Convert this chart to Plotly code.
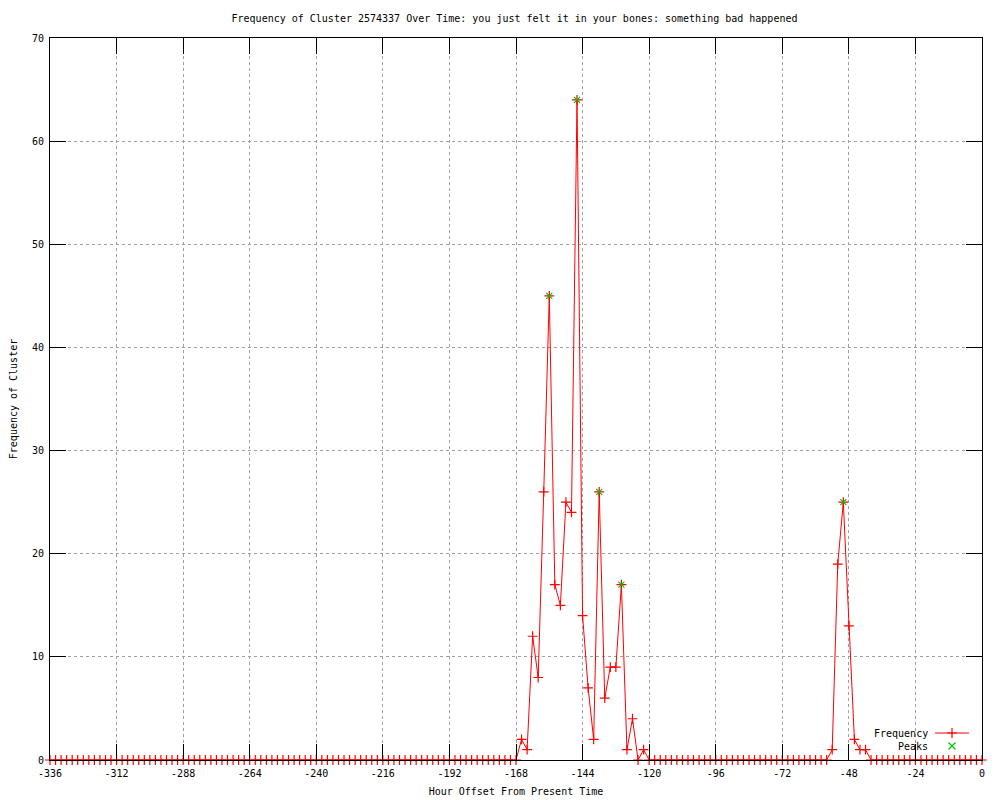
import plotly.graph_objects as go

# ---------------- data ----------------
hours = list(range(-336, 1, 2))
frequency = [
    # -336 .. -168
    0, 0, 0, 0, 0, 0, 0, 0, 0, 0, 0, 0, 0, 0, 0, 0, 0, 0, 0, 0,
    0, 0, 0, 0, 0, 0, 0, 0, 0, 0, 0, 0, 0, 0, 0, 0, 0, 0, 0, 0,
    0, 0, 0, 0, 0, 0, 0, 0, 0, 0, 0, 0, 0, 0, 0, 0, 0, 0, 0, 0,
    0, 0, 0, 0, 0, 0, 0, 0, 0, 0, 0, 0, 0, 0, 0, 0, 0, 0, 0, 0,
    0, 0, 0, 0, 0,
    # -166 .. -120
    2, 1, 12, 8, 26, 45, 17, 15, 25, 24, 64, 14, 7, 2, 26, 6, 9, 9, 17, 1,
    4, 0, 1, 0,
    # -118 .. -56
    0, 0, 0, 0, 0, 0, 0, 0, 0, 0, 0, 0, 0, 0, 0, 0,
    0, 0, 0, 0, 0, 0, 0, 0, 0, 0, 0, 0, 0, 0, 0, 0,
    # -54 .. -42
    1, 19, 25, 13, 2, 1, 1,
    # -40 .. 0
    0, 0, 0, 0, 0, 0, 0, 0, 0, 0, 0, 0, 0, 0, 0, 0, 0, 0, 0, 0, 0,
]
peak_hours = [-156, -146, -138, -130, -50]
peak_values = [45, 64, 26, 17, 25]

x_ticks = list(range(-336, 1, 24))
x_tick_labels = [str(v) for v in x_ticks]
y_ticks = list(range(0, 71, 10))

title = "Frequency of Cluster 2574337 Over Time: you just felt it in your bones: something bad happened"
x_title = "Hour Offset From Present Time"
y_title = "Frequency of Cluster"
legend_names = ["Frequency", "Peaks"]

FONT = "DejaVu Sans Mono"
FS = 10
RED = "#ff0000"
GREEN = "#00c000"

fig = go.Figure()
fig.add_trace(go.Scatter(
    x=hours, y=frequency, mode="lines+markers", name=legend_names[0],
    line=dict(color=RED, width=1),
    marker=dict(symbol="cross-thin", size=7, line=dict(color=RED, width=1.2)),
    showlegend=False, cliponaxis=False,
))
fig.add_trace(go.Scatter(
    x=peak_hours, y=peak_values, mode="markers", name=legend_names[1],
    marker=dict(symbol="x-thin", size=6, line=dict(color=GREEN, width=1.2)),
    showlegend=False, cliponaxis=False,
))

# Screen-space geometry of the plot area (the page body adds an 8px offset)
OFF = 8
L, R, T, B = 50, 982, 38, 760
W, H = R - L, B - T
def px(xp):
    return (xp - L) / W
def py(yp):
    return (B - yp) / H

leg_rows = [733, 746]
for name, yr in zip(legend_names, leg_rows):
    fig.add_annotation(x=px(930), y=py(yr), xref="paper", yref="paper",
                       text=name, showarrow=False, xanchor="right", yanchor="middle",
                       font=dict(family=FONT, size=FS, color="black"))
fig.add_shape(type="line", xref="paper", yref="paper",
              x0=px(935), x1=px(969), y0=py(leg_rows[0]), y1=py(leg_rows[0]),
              line=dict(color=RED, width=1))
fig.add_trace(go.Scatter(
    x=[px(952)], y=[py(leg_rows[0])], xaxis="x2", yaxis="y2", mode="markers",
    marker=dict(symbol="cross-thin", size=7, line=dict(color=RED, width=1.2)),
    showlegend=False, hoverinfo="skip",
))
fig.add_trace(go.Scatter(
    x=[px(952)], y=[py(leg_rows[1])], xaxis="x2", yaxis="y2", mode="markers",
    marker=dict(symbol="x-thin", size=7, line=dict(color=GREEN, width=1.2)),
    showlegend=False, hoverinfo="skip",
))

axis_common = dict(
    showline=True, linecolor="black", linewidth=1, mirror="ticks",
    ticks="inside", ticklen=16, tickwidth=1, tickcolor="black",
    showgrid=True, gridcolor="#a0a0a0", griddash="dot", gridwidth=1,
    zeroline=False, automargin=False,
    tickfont=dict(family=FONT, size=FS, color="black"),
)

fig.update_layout(
    width=1000, height=800,
    margin=dict(l=L - OFF, r=1000 - (R - OFF), t=T - OFF, b=800 - (B - OFF), autoexpand=False),
    paper_bgcolor="white", plot_bgcolor="white",
    title=dict(text=title, xref="paper", x=px(514.5), xanchor="center",
               yref="container", y=1 - (18 - OFF) / 800, yanchor="middle",
               font=dict(family=FONT, size=FS, color="black"), automargin=False),
    xaxis=dict(range=[-336, 0], tickvals=x_ticks, ticktext=x_tick_labels,
               ticklabelstandoff=4,
               title=dict(text=x_title, font=dict(family=FONT, size=FS, color="black"), standoff=9),
               **axis_common),
    yaxis=dict(range=[0, 70], tickvals=y_ticks, ticklabelstandoff=3,
               title=dict(text=y_title, font=dict(family=FONT, size=FS, color="black"), standoff=13),
               **axis_common),
    xaxis2=dict(overlaying="x", range=[0, 1], visible=False),
    yaxis2=dict(overlaying="y", range=[0, 1], visible=False),
    showlegend=False,
)

fig.write_html("out.html")
